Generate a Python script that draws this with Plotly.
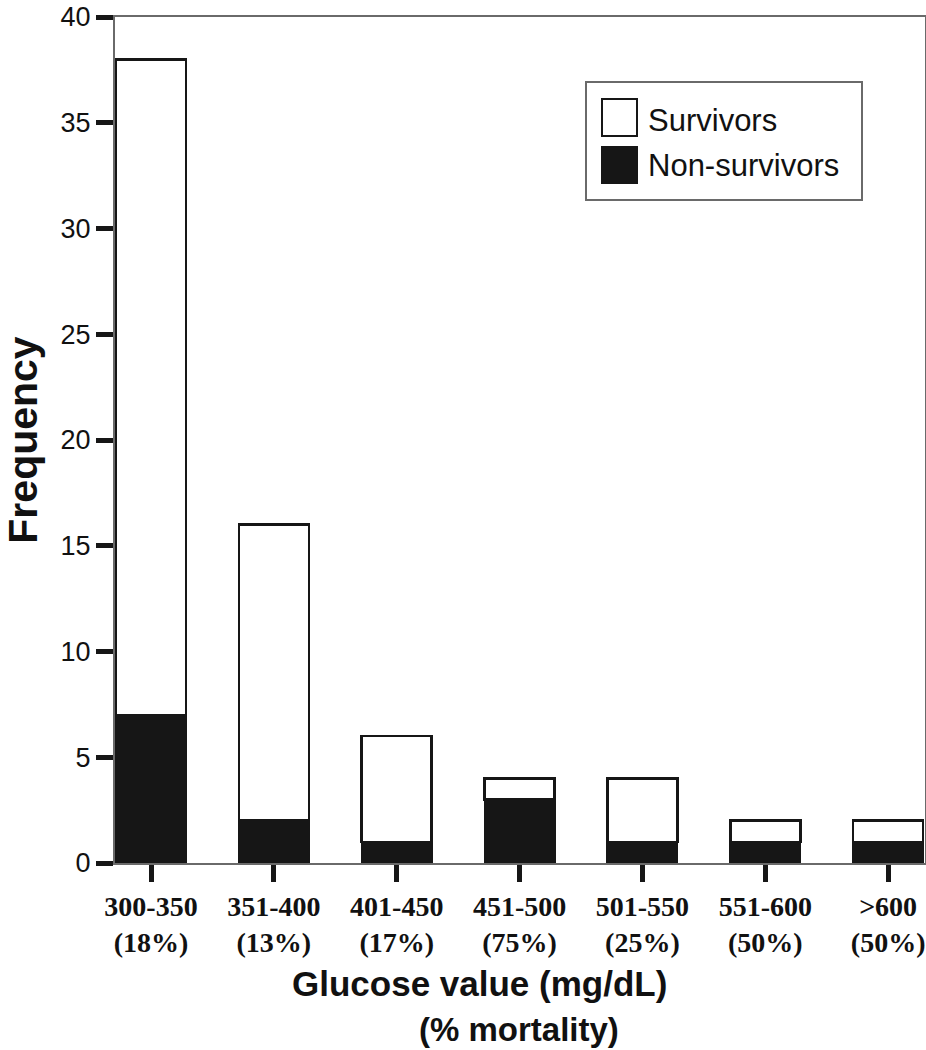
import plotly.graph_objects as go

categories = ["300-350", "351-400", "401-450", "451-500", "501-550", "551-600", ">600"]
mortality = ["18%", "13%", "17%", "75%", "25%", "50%", "50%"]
non_survivors = [7, 2, 1, 3, 1, 1, 1]
survivors = [31, 14, 5, 1, 3, 1, 1]
y_ticks = [0, 5, 10, 15, 20, 25, 30, 35, 40]

tick_text = [f"<b>{c}</b><br><b>({m})</b>" for c, m in zip(categories, mortality)]
xpos = list(range(len(categories)))

W, H = 926, 1050
L, R, T, B = 115, 1, 17, 187
pw, ph = W - L - R, H - T - B

def px(x):
    return (x - L) / pw

def py(y):
    return (H - B - y) / ph

BLACK = "#161616"
GRAY = "#6a6a6a"
SANS = "Liberation Sans, Arial"

fig = go.Figure()
fig.add_trace(go.Bar(
    x=xpos, y=non_survivors, name="Non-survivors", width=0.57,
    marker=dict(color=BLACK, line=dict(color=BLACK, width=2)),
))
fig.add_trace(go.Bar(
    x=xpos, y=survivors, name="Survivors", width=0.57,
    marker=dict(color="white", line=dict(color=BLACK, width=2.5)),
))

# Custom legend (large swatches)
shapes = [
    dict(type="rect", xref="paper", yref="paper", x0=px(586), x1=px(862), y0=py(200), y1=py(82),
         line=dict(color=GRAY, width=2), fillcolor="white", layer="above"),
    dict(type="rect", xref="paper", yref="paper", x0=px(602), x1=px(637), y0=py(136), y1=py(99),
         line=dict(color=BLACK, width=2), fillcolor="white", layer="above"),
    dict(type="rect", xref="paper", yref="paper", x0=px(601), x1=px(638), y0=py(184), y1=py(146),
         line=dict(color=BLACK, width=0), fillcolor=BLACK, layer="above"),
]
annotations = [
    dict(text="Survivors", xref="paper", yref="paper", x=px(646), y=py(120), xanchor="left", yanchor="middle",
         showarrow=False, font=dict(family=SANS, size=31, color="#111")),
    dict(text="Non-survivors", xref="paper", yref="paper", x=px(646), y=py(166), xanchor="left", yanchor="middle",
         showarrow=False, font=dict(family=SANS, size=31, color="#111")),
    dict(text="<b>Glucose value (mg/dL)</b>", xref="paper", yref="paper", x=px(479), y=py(983),
         xanchor="center", yanchor="middle", showarrow=False,
         font=dict(family=SANS, size=35, color="#111")),
    dict(text="<b>(% mortality)</b>", xref="paper", yref="paper", x=px(519), y=py(1029), xanchor="center",
         yanchor="middle", showarrow=False, font=dict(family=SANS, size=33, color="#111")),
]

fig.update_layout(
    width=W, height=H,
    margin=dict(l=L, r=R, t=T, b=B, pad=0, autoexpand=False),
    barmode="stack",
    showlegend=False,
    plot_bgcolor="white", paper_bgcolor="white",
    shapes=shapes, annotations=annotations,
)
fig.update_xaxes(
    range=[-0.293, 6.30],
    tickmode="array", tickvals=xpos, ticktext=tick_text,
    tickfont=dict(family="Liberation Serif, Times New Roman", size=28, color="#111"),
    ticks="outside", ticklen=17, tickwidth=5, tickcolor=BLACK,
    showline=True, linecolor=GRAY, linewidth=2, mirror=True,
    showgrid=False, zeroline=False, ticklabeloverflow="allow", automargin=False,
)
fig.update_yaxes(
    range=[0, 40], tickmode="array", tickvals=y_ticks,
    tickfont=dict(family=SANS, size=27, color="#111"),
    ticks="outside", ticklen=17, tickwidth=5, tickcolor=BLACK,
    showline=True, linecolor=GRAY, linewidth=2, mirror=True,
    showgrid=False, zeroline=False, ticklabeloverflow="allow", automargin=False,
    title=dict(text="<b>Frequency</b>", standoff=18,
               font=dict(family=SANS, size=41, color="#111")),
)

fig.write_html("out.html", config={"displayModeBar": False},
               post_script="document.body.style.margin='0';document.body.style.overflow='hidden';")
